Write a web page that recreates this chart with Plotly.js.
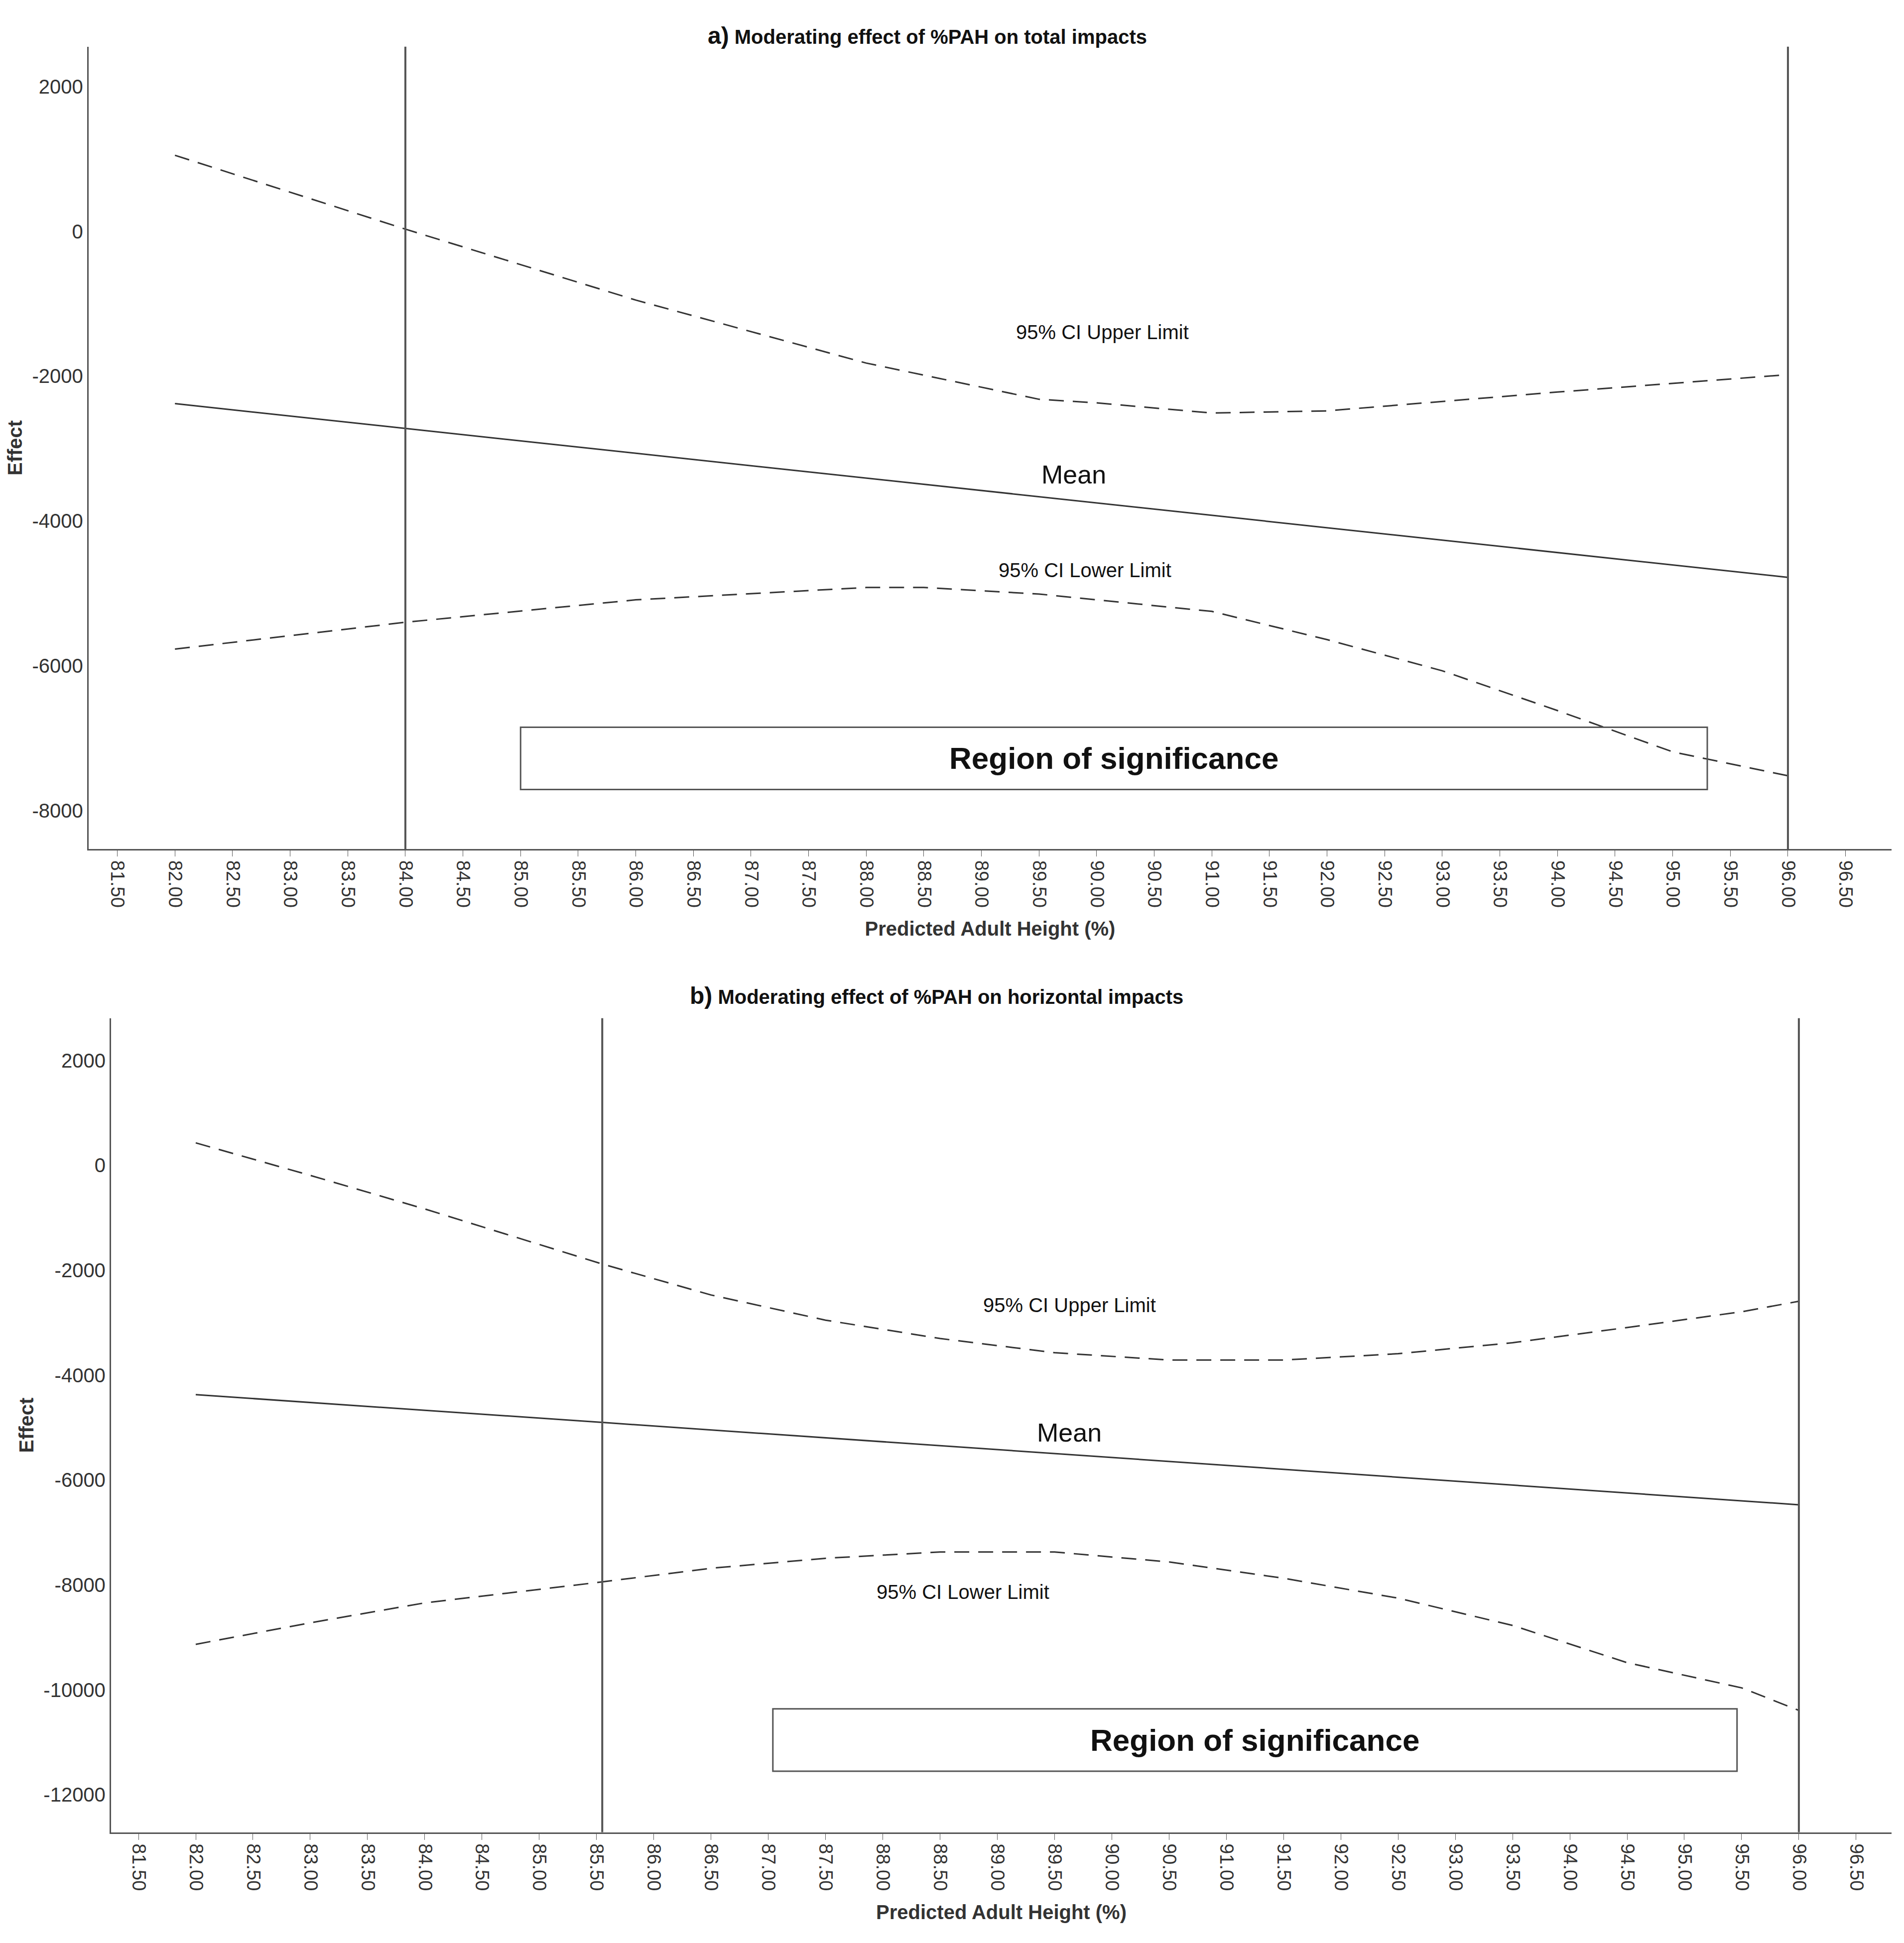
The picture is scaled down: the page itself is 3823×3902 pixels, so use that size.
<!DOCTYPE html>
<html><head><meta charset="utf-8">
<script src="https://cdn.plot.ly/plotly-3.0.1.min.js"></script>
<style>html,body{margin:0;padding:0;background:#fff}#chart{width:3823px;height:3902px}</style>
</head><body><div id="chart"></div>
<script>
/* ─── Panel a: total impacts ─── */
const xA = [82, 84, 86, 88, 89.5, 90, 91, 92, 94, 96];
const upperA = [1050, 30, -950, -1820, -2320, -2370, -2510, -2480, -2220, -1980];
const xLowA = [82, 84, 86, 88, 88.5, 89.5, 91, 92, 93, 94, 95, 96];
const lowerA = [-5770, -5400, -5090, -4920, -4920, -5010, -5250, -5640, -6070, -6620, -7190, -7520];
const xMeanA = [82, 96];
const meanA = [-2380, -4780];
const vlinesA = [84, 96];
const regionA = { x: [85.0, 95.3], y: [-6850, -7710] };
const yTicksA = [2000, 0, -2000, -4000, -6000, -8000];

/* ─── Panel b: horizontal impacts ─── */
const xB = [82, 83, 84, 85.55, 86.5, 87.5, 88.5, 89.5, 90.5, 91.5, 92.5, 93.5, 94.5, 95.5, 96];
const upperB = [430, -190, -830, -1880, -2470, -2950, -3300, -3570, -3710, -3710, -3590, -3380, -3090, -2790, -2590];
const lowerB = [-9130, -8720, -8340, -7940, -7680, -7490, -7370, -7370, -7560, -7870, -8250, -8770, -9480, -9960, -10390];
const xMeanB = [82, 85.55, 96];
const meanB = [-4370, -4900, -6470];
const vlinesB = [85.55, 96];
const regionB = { x: [87.04, 95.46], y: [-10360, -11550] };
const yTicksB = [2000, 0, -2000, -4000, -6000, -8000, -10000, -12000];

const xTicks = [];
for (let v = 81.5; v <= 96.5; v += 0.5) xTicks.push(v);
const xTickText = xTicks.map(v => v.toFixed(2));

const FONT = 'Liberation Sans, Arial, sans-serif';
const INK = '#333';

function line(x, y, xa, ya, dash) {
  return { x, y, xaxis: xa, yaxis: ya, mode: 'lines', hoverinfo: 'skip',
    line: { color: INK, width: 3, dash: dash ? '30px,18px' : 'solid' } };
}

const traces = [
  line(xA, upperA, 'x', 'y', true),
  line(xLowA, lowerA, 'x', 'y', true),
  line(xMeanA, meanA, 'x', 'y', false),
  line(xB, upperB, 'x2', 'y2', true),
  line(xB, lowerB, 'x2', 'y2', true),
  line(xMeanB, meanB, 'x2', 'y2', false),
];

function xaxisStyle(domain, range, anchor) {
  return {
    domain, range, anchor, tickvals: xTicks, ticktext: xTickText, tickangle: 90,
    showline: true, linecolor: '#555', linewidth: 3, ticks: 'outside', ticklen: 12, tickcolor: '#555',
    showgrid: false, zeroline: false, tickfont: { size: 38, color: INK, family: FONT },
    title: { text: '<b>Predicted Adult Height (%)</b>', font: { size: 40, color: INK, family: FONT }, standoff: 30 },
  };
}
function yaxisStyle(domain, range, anchor, tickvals) {
  return {
    domain, range, anchor, tickvals, ticktext: tickvals.map(v => String(v)),
    showline: true, linecolor: '#555', linewidth: 3, ticks: '', showgrid: false, zeroline: false,
    tickfont: { size: 40, color: INK, family: FONT },
    title: { text: '<b>Effect</b>', font: { size: 40, color: INK, family: FONT }, standoff: 8 },
  };
}

const shapes = [];
function vlines(xs, xr, yr) {
  xs.forEach(v => shapes.push({ type: 'line', xref: xr, yref: yr + ' domain', x0: v, x1: v, y0: 0, y1: 1,
    line: { color: '#555', width: 4 } }));
}
function box(r, xr, yr) {
  shapes.push({ type: 'rect', xref: xr, yref: yr, x0: r.x[0], x1: r.x[1], y0: r.y[0], y1: r.y[1],
    line: { color: '#555', width: 3 }, fillcolor: 'rgba(255,255,255,0)' });
}
vlines(vlinesA, 'x', 'y'); vlines(vlinesB, 'x2', 'y2');
box(regionA, 'x', 'y'); box(regionB, 'x2', 'y2');

function note(text, x, y, xr, yr, size, bold) {
  return { text: bold ? '<b>' + text + '</b>' : text, x, y, xref: xr, yref: yr, showarrow: false,
    font: { size, color: '#111', family: FONT } };
}

const annotations = [
  note('95% CI Upper Limit', 90.05, -1390, 'x', 'y', 40),
  note('Mean', 89.8, -3360, 'x', 'y', 52),
  note('95% CI Lower Limit', 89.9, -4680, 'x', 'y', 40),
  note('Region of significance', (regionA.x[0] + regionA.x[1]) / 2, (regionA.y[0] + regionA.y[1]) / 2, 'x', 'y', 62, true),
  note('95% CI Upper Limit', 89.63, -2660, 'x2', 'y2', 40),
  note('Mean', 89.63, -5090, 'x2', 'y2', 52),
  note('95% CI Lower Limit', 88.7, -8130, 'x2', 'y2', 40),
  note('Region of significance', (regionB.x[0] + regionB.x[1]) / 2, (regionB.y[0] + regionB.y[1]) / 2, 'x2', 'y2', 62, true),
  { text: '<b><span style="font-size:48px">a)</span> Moderating effect of %PAH on total impacts</b>',
    x: 0.487, y: 0.989, xref: 'paper', yref: 'paper', showarrow: false, font: { size: 40, color: '#111', family: FONT } },
  { text: '<b><span style="font-size:48px">b)</span> Moderating effect of %PAH on horizontal impacts</b>',
    x: 0.492, y: 0.4875, xref: 'paper', yref: 'paper', showarrow: false, font: { size: 40, color: '#111', family: FONT } },
];

const layout = {
  width: 3823, height: 3902, paper_bgcolor: '#fff', plot_bgcolor: '#fff',
  margin: { l: 0, r: 0, t: 0, b: 0 }, showlegend: false,
  xaxis: xaxisStyle([0.0465, 0.9935], [81.25, 96.90], 'y'),
  yaxis: yaxisStyle([0.563, 0.976], [-8533, 2551], 'x', yTicksA),
  xaxis2: xaxisStyle([0.0583, 0.9935], [81.26, 96.81], 'y2'),
  yaxis2: yaxisStyle([0.057, 0.476], [-12713, 2808], 'x2', yTicksB),
  shapes, annotations,
};

Plotly.newPlot('chart', traces, layout, { displayModeBar: false, responsive: false });
</script></body></html>
